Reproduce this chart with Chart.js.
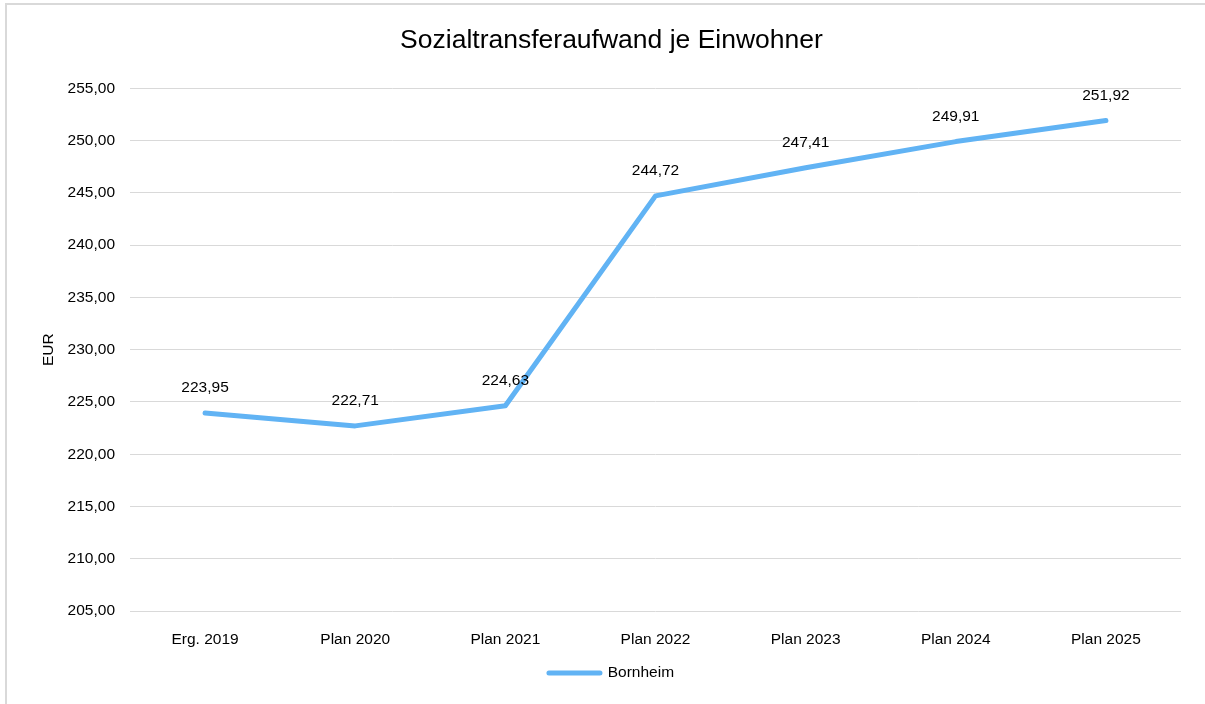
<!DOCTYPE html>
<html>
<head>
<meta charset="utf-8">
<script src="https://cdn.jsdelivr.net/npm/chart.js@4"></script>
<style>
  html, body { margin: 0; padding: 0; background: #fff; overflow: hidden; }
  #frame { position: absolute; left: 5px; top: 3px; width: 1300px; height: 800px; border: 2px solid #d9d9d9; }
  #chart { position: absolute; left: 0; top: 0; }
</style>
</head>
<body>
<div id="frame"></div>
<canvas id="chart" width="1205" height="704"></canvas>
<script>
// Data
const categories = ['Erg. 2019', 'Plan 2020', 'Plan 2021', 'Plan 2022', 'Plan 2023', 'Plan 2024', 'Plan 2025'];
const bornheim = [223.95, 222.71, 224.63, 244.72, 247.41, 249.91, 251.92];
const yTicks = [205, 210, 215, 220, 225, 230, 235, 240, 245, 250, 255];

const fmt = v => Number(v).toFixed(2).replace('.', ',');
const FONT = 'Arial, "Liberation Sans", sans-serif';
const SIZE = 15.5;
const lineColor = '#61b3f4';

// Value labels above points
const valueLabels = {
  id: 'valueLabels',
  afterDatasetsDraw(chart) {
    const ctx = chart.ctx;
    ctx.save();
    ctx.font = SIZE + 'px ' + FONT;
    ctx.fillStyle = '#000';
    ctx.textAlign = 'center';
    ctx.textBaseline = 'middle';
    chart.getDatasetMeta(0).data.forEach((pt, i) => {
      ctx.fillText(fmt(bornheim[i]), pt.x, pt.y - 25);
    });
    ctx.restore();
  }
};

new Chart(document.getElementById('chart'), {
  type: 'line',
  data: {
    labels: categories,
    datasets: [{
      label: 'Bornheim',
      data: bornheim,
      borderColor: lineColor,
      backgroundColor: lineColor,
      borderWidth: 5,
      borderCapStyle: 'round',
      borderJoinStyle: 'round',
      tension: 0,
      pointRadius: 0,
      pointHoverRadius: 0
    }]
  },
  options: {
    responsive: false,
    animation: false,
    layout: { padding: { left: 42, right: 24, top: 0, bottom: 13.25 } },
    plugins: {
      title: {
        display: true,
        text: 'Sozialtransferaufwand je Einwohner',
        color: '#000',
        font: { family: FONT, size: 26.5, weight: 'normal' },
        padding: { top: 25, bottom: 31.6 }
      },
      legend: {
        position: 'bottom',
        labels: {
          color: '#000',
          font: { family: FONT, size: SIZE },
          usePointStyle: true,
          pointStyleWidth: 51,
          padding: 10,
          generateLabels: chart => [{
            text: 'Bornheim',
            strokeStyle: lineColor,
            fillStyle: lineColor,
            lineWidth: 5,
            lineCap: 'round',
            pointStyle: 'line',
            datasetIndex: 0,
            fontColor: '#000'
          }]
        }
      },
      tooltip: { enabled: false }
    },
    scales: {
      x: {
        offset: true,
        grid: { display: false },
        border: { display: false },
        ticks: { color: '#000', font: { family: FONT, size: SIZE }, padding: 11, maxRotation: 0 },
        afterFit: s => { s.height = 44.25; }
      },
      y: {
        min: yTicks[0],
        max: yTicks[yTicks.length - 1],
        afterBuildTicks: s => { s.ticks = yTicks.map(v => ({ value: v })); },
        grid: { color: '#d9d9d9', lineWidth: 1, drawTicks: false },
        border: { display: false },
        ticks: { color: '#000', font: { family: FONT, size: SIZE }, padding: 15, callback: v => fmt(v) },
        title: {
          display: true,
          text: 'EUR',
          color: '#000',
          font: { family: FONT, size: SIZE },
          padding: { top: -3, bottom: 0 }
        },
        afterFit: s => { s.width = 88; }
      }
    }
  },
  plugins: [valueLabels]
});
</script>
</body>
</html>
